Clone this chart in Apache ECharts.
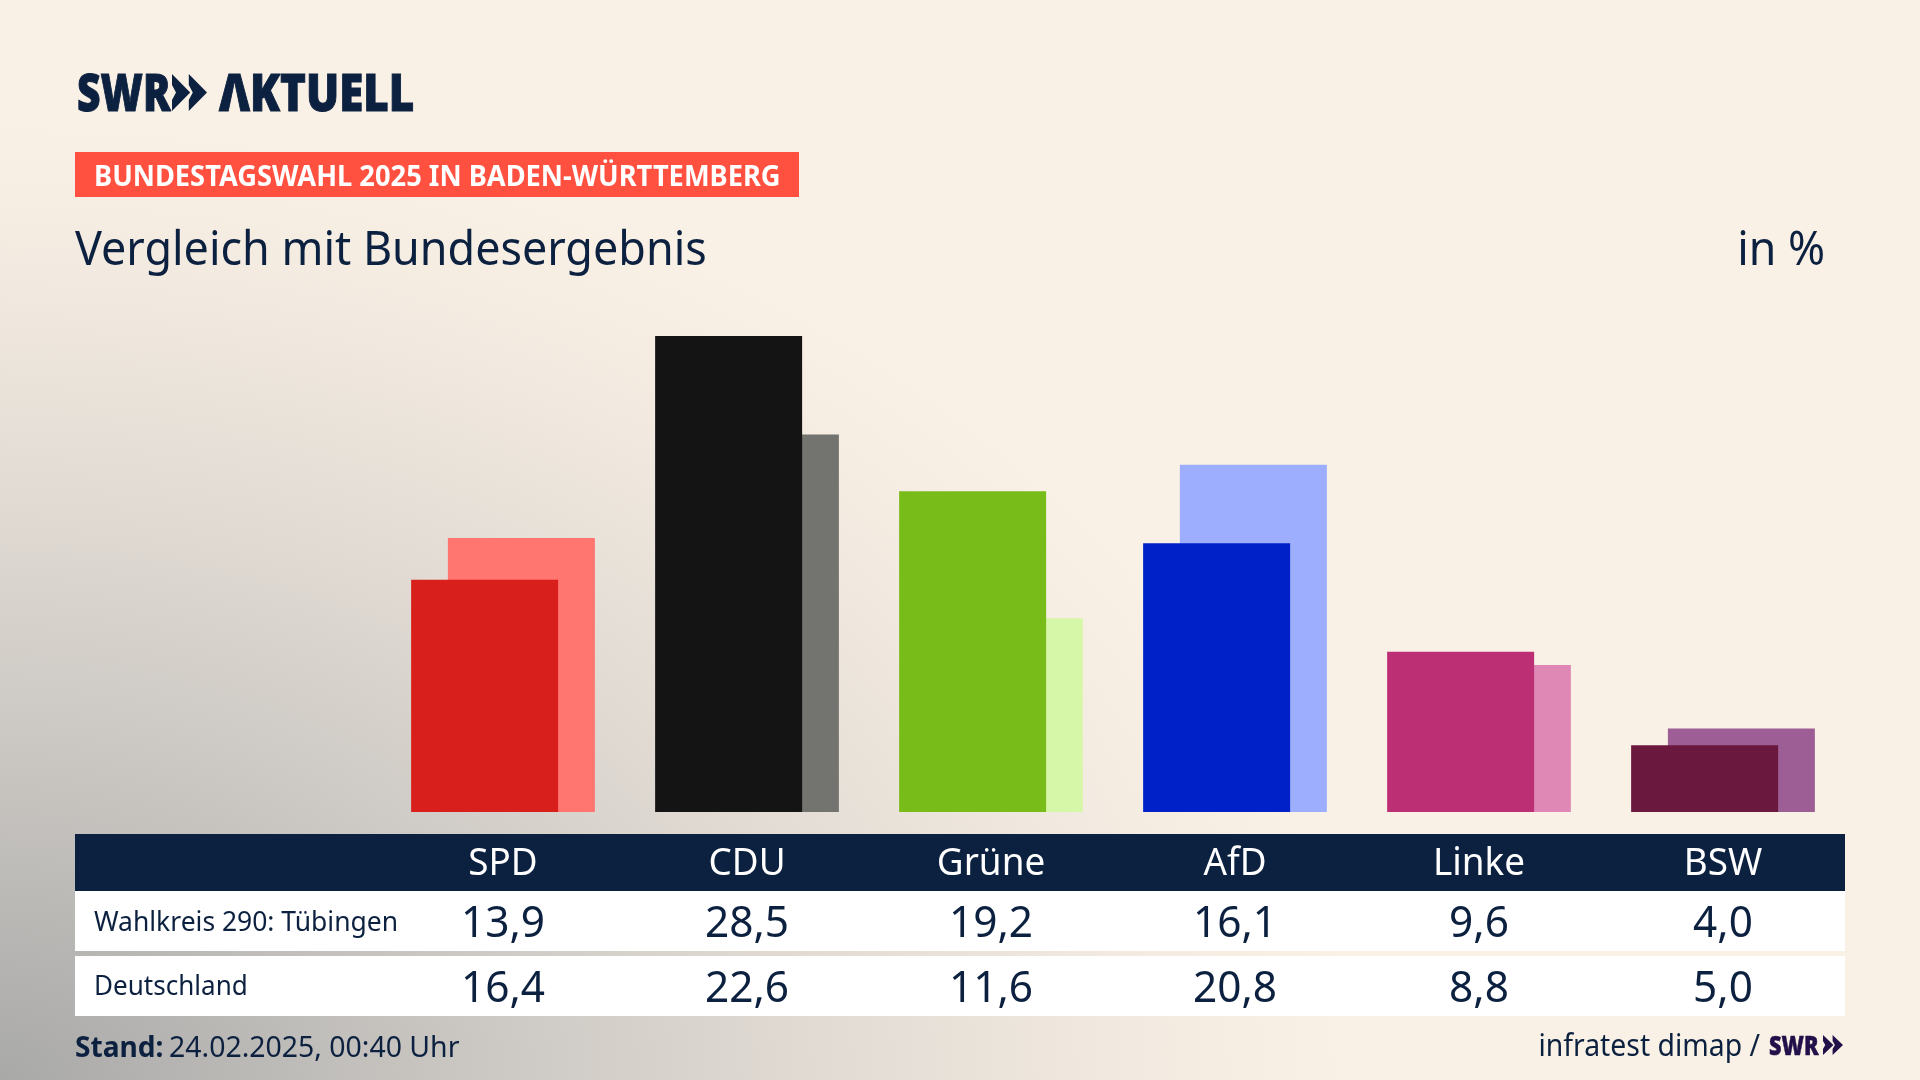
<!DOCTYPE html>
<html>
<head>
<meta charset="UTF-8">
<title>Vergleich mit Bundesergebnis</title>
<script src="https://cdn.jsdelivr.net/npm/echarts@6/dist/echarts.min.js"></script>
<style>
html,body{margin:0;padding:0;width:1920px;height:1080px;overflow:hidden}
body{background:radial-gradient(ellipse 1350px 960px at 0% 100%,#a9a9a8 0%,#c6c3bf 30%,#dfd9d2 58%,#f1e9df 82%,#faf1e6 100%) #faf1e6}
</style>
</head>
<body>
<div id="main" style="width:1920px;height:1080px"></div>
<script>
var parties = ['SPD', 'CDU', 'Grüne', 'AfD', 'Linke', 'BSW'];
var wahlkreis = [13.9, 28.5, 19.2, 16.1, 9.6, 4.0];
var deutschland = [16.4, 22.6, 11.6, 20.8, 8.8, 5.0];
var darkColors = ['#d81f1c', '#141414', '#78bc1a', '#0021c8', '#bc2f74', '#6b183f'];
var lightColors = ['#ff7670', '#73736f', '#d7f7a8', '#9daeff', '#df88b5', '#9c5e95'];
var rowNames = ['Wahlkreis 290: Tübingen', 'Deutschland'];

var navy = '#0c203f';
var font = '"Noto Sans", sans-serif';
var gridLeft = 381, colWidth = 244;

function fmt(v) {
	return v.toFixed(1).replace('.', ',');
}
function colored(values, colors) {
	return values.map(function (v, i) {
		return {value: v, itemStyle: {color: colors[i]}};
	});
}
// small helper, sx stretches or squeezes the text to the width of the original font
function txt(s, x, y, size, opt) {
	opt = opt || {};
	return {
		type: 'text', x: x, y: y, scaleX: opt.sx || 1, z: 10,
		style: {
			text: s, fill: opt.color || navy,
			stroke: opt.thick ? (opt.color || navy) : null, lineWidth: opt.thick || 0,
			font: (opt.weight || 'normal') + ' ' + size + 'px ' + font,
			textAlign: opt.align || 'left', textVerticalAlign: 'middle'
		}
	};
}
function rect(x, y, w, h, color) {
	return {type: 'rect', shape: {x: x, y: y, width: w, height: h}, style: {fill: color}, z: 5};
}
function chevrons(x, y, w, h, color) {
	// the two arrows of the SWR logo
	var one = w * 0.52;
	return [0, w - one].map(function (dx) {
		var l = x + dx;
		return {
			type: 'polygon', z: 10,
			shape: {points: [[l, y], [l + one, y + h / 2], [l, y + h], [l, y + h * 0.7], [l + one * 0.22, y + h / 2], [l, y + h * 0.3]]},
			style: {fill: color}
		};
	});
}

var graphic = [
	txt('SWR', 77, 96, 51, {weight: 900, sx: 0.8, thick: 1}),
	txt('ΛKTUELL', 219, 96, 51, {weight: 900, sx: 0.86, thick: 1}),
	rect(75, 152, 724, 45, '#ff5040'),
	txt('BUNDESTAGSWAHL 2025 IN BADEN-WÜRTTEMBERG', 94, 177.5, 29, {weight: 'bold', color: '#fff', sx: 0.94}),
	txt('Vergleich mit Bundesergebnis', 75, 252, 47, {sx: 0.955}),
	txt('in %', 1825, 252, 47, {align: 'right', sx: 0.95}),
	rect(75, 834, 1770, 57, navy),
	rect(75, 891, 1770, 60, '#fff'),
	rect(75, 956, 1770, 60, '#fff'),
	txt(rowNames[0], 94, 923, 27, {sx: 0.98}),
	txt(rowNames[1], 94, 987.5, 27, {sx: 0.965}),
	txt('Stand:', 75, 1048.5, 29, {weight: 'bold', sx: 0.97}),
	txt('24.02.2025, 00:40 Uhr', 169, 1048.5, 29, {sx: 0.98}),
	txt('infratest dimap /', 1760, 1047.5, 30, {align: 'right', sx: 0.945}),
	txt('SWR', 1769, 1047, 27, {weight: 900, color: '#22104a', sx: 0.8, thick: 0.5})
].concat(chevrons(172, 74, 35, 37, navy), chevrons(1823, 1035, 20, 20, '#22104a'));

parties.forEach(function (p, i) {
	var cx = gridLeft + colWidth * (i + 0.5);
	graphic.push(txt(p, cx, 864.5, 38, {align: 'center', color: '#fff', sx: 0.97}));
	graphic.push(txt(fmt(wahlkreis[i]), cx, 924.5, 43, {align: 'center', sx: 0.985}));
	graphic.push(txt(fmt(deutschland[i]), cx, 989.5, 43, {align: 'center', sx: 0.985}));
});

var myChart = echarts.init(document.getElementById('main'));
myChart.setOption({
	animation: false,
	textStyle: {fontFamily: font},
	grid: {left: gridLeft, top: 311, width: colWidth * parties.length, height: 501},
	xAxis: {
		type: 'category', data: parties,
		axisLine: {show: false}, axisTick: {show: false}, axisLabel: {show: false}
	},
	yAxis: {type: 'value', min: 0, max: 30, show: false, splitLine: {show: false}},
	graphic: graphic,
	series: [{
		name: rowNames[0], type: 'bar', barWidth: 147, barGap: '-75%', z: 3,
		data: colored(wahlkreis, darkColors)
	}, {
		name: rowNames[1], type: 'bar', barWidth: 147, barGap: '-75%', z: 2,
		data: colored(deutschland, lightColors)
	}]
});
</script>
</body>
</html>
